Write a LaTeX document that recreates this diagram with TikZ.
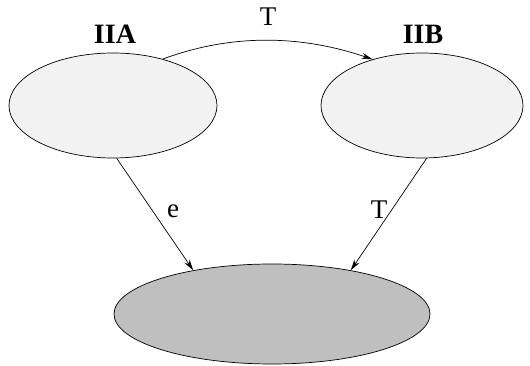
\documentclass[tikz,border=0pt]{standalone}
\usepackage{fontspec}
\setmainfont{Liberation Serif}
\usetikzlibrary{shapes.geometric,arrows.meta}
\begin{document}
\begin{tikzpicture}[x=1pt,y=1pt,
  blob/.style={ellipse,draw,line width=0.7pt,inner sep=0pt},
  lab/.style={anchor=base,inner sep=0pt,font=\fontsize{27}{30}\selectfont},
  title/.style={anchor=base,inner sep=0pt,font=\fontsize{28}{32}\selectfont\bfseries},
  conn/.style={line width=0.7pt,-{Stealth[length=11pt,width=6pt]}}]
\useasboundingbox (0,0) rectangle (530,366);
\node[blob,fill=black!5,minimum width=208pt,minimum height=105pt] (a) at (113,260.5) {};
\node[blob,fill=black!5,minimum width=202pt,minimum height=105pt] (b) at (422,260.5) {};
\node[blob,fill=black!25,minimum width=316pt,minimum height=100pt] (c) at (272,52) {};
\node[title] (ta) at (115,322) {IIA};
\node[title] (tb) at (423,322) {IIB};
\node[lab] (l1) at (268,340) {T};
\node[lab] (l2) at (173,148) {e};
\node[lab] (l3) at (379,147) {T};
\draw[conn] (a.43) .. controls +(70,26) and +(-70,24) .. (b.137);
\draw[conn] (a.274) -- (c.151);
\draw[conn] (b.275) -- (c.29);
\end{tikzpicture}
\end{document}
